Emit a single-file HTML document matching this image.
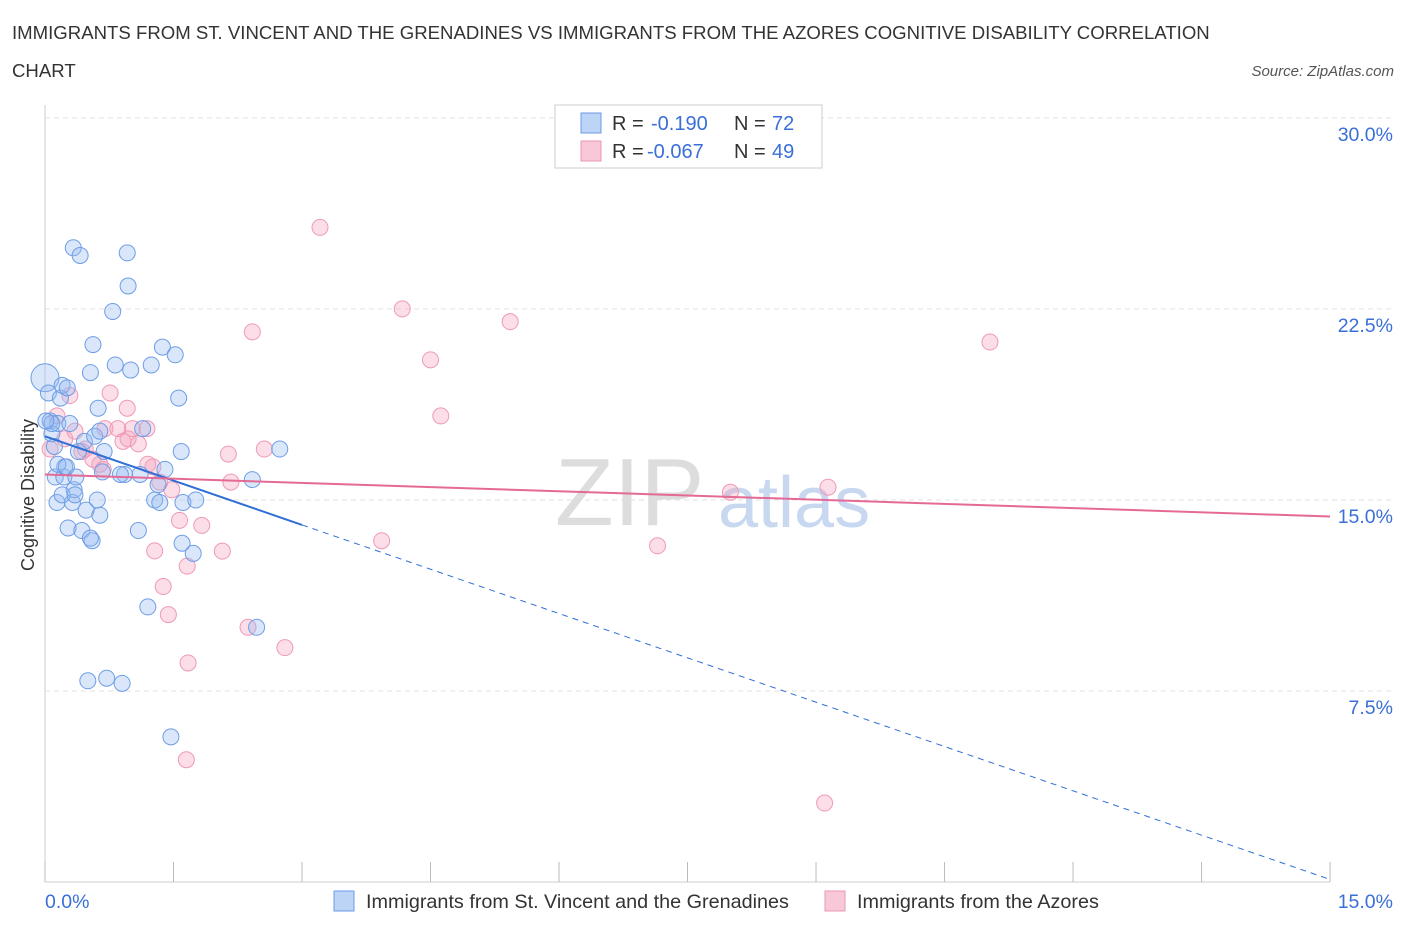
<!DOCTYPE html>
<html><head><meta charset="utf-8"><style>
body{margin:0;background:#fff;font-family:"Liberation Sans",sans-serif;}
svg text{font-family:"Liberation Sans",sans-serif;}
</style></head><body>
<svg width="1406" height="930">
<text x="12" y="39" font-size="18.6" fill="#333">IMMIGRANTS FROM ST. VINCENT AND THE GRENADINES VS IMMIGRANTS FROM THE AZORES COGNITIVE DISABILITY CORRELATION</text>
<text x="12" y="77" font-size="18.6" fill="#333">CHART</text>
<text x="1394" y="76" font-size="15" fill="#555" text-anchor="end" font-style="italic">Source: ZipAtlas.com</text>
<g id="grid"></g>
<text x="555" y="525" font-size="96" fill="#ddd" font-family="Liberation Serif">ZIP</text>
<text x="718" y="527" font-size="72" fill="#c8d8f0">atlas</text>
<line x1="45" y1="105" x2="45" y2="882" stroke="#ccc"/>
<line x1="45" y1="882" x2="1330" y2="882" stroke="#ccc"/>
<g id="ticks"></g>
<text transform="translate(34,495) rotate(-90)" font-size="18" fill="#333" text-anchor="middle">Cognitive Disability</text>
<text x="45" y="908" font-size="19.5" fill="#3a6fd8">0.0%</text>
<text x="1393" y="908" font-size="19.5" fill="#3a6fd8" text-anchor="end">15.0%</text>
<g id="pts"></g>
<g id="trend"></g>
<g>
<rect x="555" y="105" width="267" height="63" fill="#fff" stroke="#ccc"/>
<rect x="581" y="113" width="20" height="20" fill="#bcd4f6" stroke="#6b9be6"/>
<rect x="581" y="141" width="20" height="20" fill="#f9c8d8" stroke="#ec97b3"/>
<text x="612" y="130" font-size="20" fill="#333">R =</text>
<text x="651" y="130" font-size="20" fill="#3a6fd8">-0.190</text>
<text x="734" y="130" font-size="20" fill="#333">N =</text>
<text x="772" y="130" font-size="20" fill="#3a6fd8">72</text>
<text x="612" y="158" font-size="20" fill="#333">R =</text>
<text x="647" y="158" font-size="20" fill="#3a6fd8">-0.067</text>
<text x="734" y="158" font-size="20" fill="#333">N =</text>
<text x="772" y="158" font-size="20" fill="#3a6fd8">49</text>
</g>
<g>
<rect x="334" y="891" width="20" height="20" fill="#bcd4f6" stroke="#6b9be6"/>
<text x="366" y="908" font-size="19.8" fill="#333">Immigrants from St. Vincent and the Grenadines</text>
<rect x="825" y="891" width="20" height="20" fill="#f9c8d8" stroke="#ec97b3"/>
<text x="857" y="908" font-size="19.8" fill="#333">Immigrants from the Azores</text>
</g>
</svg>
<script>
const blueX=[0.0,0.04,0.06,0.08,0.12,0.14,0.15,0.18,0.2,0.22,0.23,0.26,0.27,0.29,0.32,0.34,0.33,0.41,0.36,0.39,0.43,0.46,0.48,0.5,0.53,0.55,0.56,0.58,0.61,0.62,0.64,0.67,0.69,0.72,0.79,0.82,0.9,0.93,0.96,0.97,1.0,1.09,1.11,1.14,1.2,1.24,1.28,1.32,1.34,1.37,1.4,1.47,1.52,1.56,1.59,1.6,1.61,1.73,1.76,2.42,2.47,2.74,0.53,0.2,0.35,0.15,0.25,0.08,0.64,0.88,0.11,0.01];
const blueY=[19.8,19.2,18.1,17.6,15.9,14.9,18.0,19.0,19.5,15.9,16.3,19.4,13.9,18.0,14.9,15.4,24.9,24.6,15.9,16.9,13.8,17.3,14.6,7.9,20.0,13.4,21.1,17.5,15.0,18.6,14.4,16.1,16.9,8.0,22.4,20.3,7.8,16.0,24.7,23.4,20.1,13.8,16.0,17.8,10.8,20.3,15.0,15.6,14.9,21.0,16.2,5.7,20.7,19.0,16.9,13.3,14.9,12.9,15.0,15.8,10.0,17.0,13.5,15.2,15.2,16.4,16.3,18.0,17.7,16.0,17.1,18.1];
const pinkX=[3.21,4.17,5.43,11.03,2.42,4.5,4.62,0.96,0.76,0.14,0.23,0.35,0.47,0.56,0.64,0.7,0.85,0.91,1.02,1.09,1.2,1.26,1.34,1.48,1.57,1.66,1.38,1.44,1.83,2.07,2.14,2.17,2.37,2.56,2.8,1.67,1.65,1.28,3.93,7.15,8.0,9.14,9.1,0.06,0.29,0.68,1.19,0.97,0.43];
const pinkY=[25.7,22.5,22.0,21.2,21.6,20.5,18.3,18.6,19.2,18.3,17.4,17.7,17.0,16.6,16.4,17.8,17.8,17.3,17.8,17.2,16.4,16.3,15.7,15.4,14.2,12.4,11.6,10.5,14.0,12.99,16.8,15.7,10.0,17.0,9.2,8.6,4.8,13.0,13.4,13.2,15.3,15.5,3.1,17.0,19.1,16.2,17.8,17.4,16.9];
const yTicks=[7.5,15.0,22.5,30.0];
const xTicks=[0,1.5,3,4.5,6,7.5,9,10.5,12,13.5,15];
const X=v=>45+v*85.67, Y=v=>882-v*25.47;
const NS="http://www.w3.org/2000/svg";
function mk(t,a,p){const e=document.createElementNS(NS,t);for(const k in a)e.setAttribute(k,a[k]);p.appendChild(e);return e;}
const grid=document.getElementById('grid');
yTicks.forEach(v=>{
 const l=mk('line',{x1:45,x2:1395,y1:Y(v),y2:Y(v),stroke:'#e2e2e2','stroke-dasharray':'5,4'},grid);
 
 
 const t=mk('text',{x:1393,y:Y(v)+23,'font-size':19.5,fill:'#3a6fd8','text-anchor':'end'},grid);
 t.textContent=v.toFixed(1)+'%';
 
 
});
const tk=document.getElementById('ticks');
xTicks.forEach(v=>{
 const l=mk('line',{x1:X(v),x2:X(v),y1:862,y2:882,stroke:'#bbb'},tk);
 
 
});
const pts=document.getElementById('pts');
pinkX.forEach((x,i)=>{
 const c=mk('circle',{cx:X(x),cy:Y(pinkY[i]),r:8,fill:'rgba(244,160,190,0.35)',stroke:'#ee9ab6','stroke-width':1},pts);
 
 
});
blueX.forEach((x,i)=>{
 const c=mk('circle',{cx:X(x),cy:Y(blueY[i]),r:i==0?14:8,fill:'rgba(150,185,240,0.35)',stroke:'#6e9de6','stroke-width':1},pts);
 
 
});
const tr=document.getElementById('trend');
const bA=17.5,bB=-1.16,pA=16.0,pB=-0.11;
let e=mk('line',{x1:X(0),y1:Y(bA),x2:X(3),y2:Y(bA+bB*3),stroke:'#2f6fd6','stroke-width':2},tr);


e=mk('line',{x1:X(3),y1:Y(bA+bB*3),x2:X(15),y2:Y(bA+bB*15),stroke:'#2f6fd6','stroke-width':1,'stroke-dasharray':'6,5'},tr);


e=mk('line',{x1:X(0),y1:Y(pA),x2:X(15),y2:Y(pA+pB*15),stroke:'#e46a95','stroke-width':2},tr);


</script>
</body></html>
